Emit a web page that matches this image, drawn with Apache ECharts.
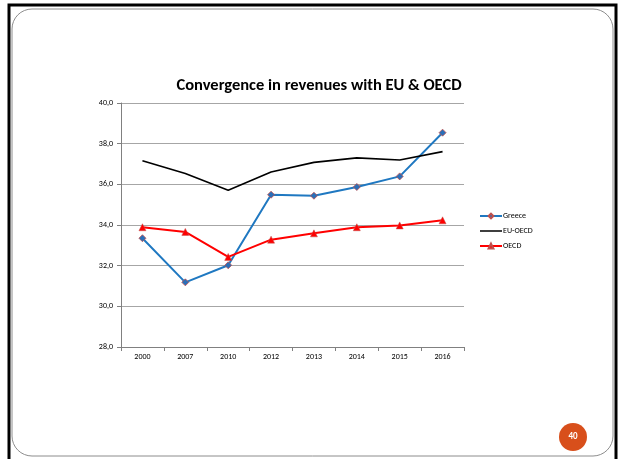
<!DOCTYPE html>
<html><head><meta charset="utf-8">
<script src="https://cdn.jsdelivr.net/npm/echarts@6/dist/echarts.min.js"></script>
<style>html,body{margin:0;padding:0;background:#fff}#c{width:620px;height:459px}</style>
</head><body><div id="c"></div>
<script>
const years = ['2000','2007','2010','2012','2013','2014','2015','2016'];
const greece = [33.35, 31.18, 32.02, 35.49, 35.44, 35.87, 36.39, 38.54];
const euOecd = [37.16, 36.53, 35.71, 36.61, 37.08, 37.30, 37.20, 37.61];
const oecd = [33.89, 33.66, 32.43, 33.28, 33.59, 33.89, 33.98, 34.23];
const chartTitle = 'Convergence in revenues with EU & OECD';
const pageNo = '40';

const chart = echarts.init(document.getElementById('c'));
const font = 'Carlito, "Liberation Sans", "Open Sans", sans-serif';
const barIcon = 'path://M0,2.2 L22,2.2 L22,3.8 L0,3.8 Z M0,0 L0.01,0 L0,0 Z M0,6 L0.01,6 L0,6 Z';
chart.setOption({
  animation: false,
  textStyle: {fontFamily: font},
  title: {text: chartTitle, left: 314, top: 72, textAlign: 'center',
    textStyle: {fontSize: 16.5, fontWeight: 'bold', color: '#000', fontFamily: font}},
  grid: {left: 121, right: 156, top: 103, bottom: 112},
  legend: {orient: 'vertical', left: 474, top: 207, itemGap: 7, itemWidth: 22, itemHeight: 6,
    textStyle: {fontSize: 8, color: '#000', padding: [0,0,0,-4]},
    data: ['Greece', {name: 'EU-OECD', icon: barIcon}, 'OECD']},
  xAxis: {type: 'category', data: years, boundaryGap: true,
    axisLine: {lineStyle: {color: '#808080', width: 1}},
    axisTick: {show: true, length: 4, lineStyle: {color: '#808080'}},
    axisLabel: {fontSize: 8, color: '#000', margin: 6}},
  yAxis: {type: 'value', min: 28, max: 40, interval: 2,
    axisLine: {show: true, lineStyle: {color: '#808080', width: 1}},
    axisTick: {show: true, length: 4, lineStyle: {color: '#808080'}},
    axisLabel: {fontSize: 8, color: '#000', margin: 8, formatter: v => v.toFixed(1).replace('.', ',')},
    splitLine: {lineStyle: {color: '#a6a6a6', width: 1}}},
  series: [
    {name: 'Greece', type: 'line', data: greece, symbol: 'diamond', symbolSize: 7,
      lineStyle: {color: '#1f78c1', width: 2}, itemStyle: {color: '#2a6fb8', borderColor: '#c0504d', borderWidth: 0.8}},
    {name: 'EU-OECD', type: 'line', data: euOecd, symbol: 'none',
      lineStyle: {color: '#000', width: 1.6}, itemStyle: {color: '#000'}},
    {name: 'OECD', type: 'line', data: oecd, symbol: 'triangle', symbolSize: 7,
      lineStyle: {color: '#ff0000', width: 2}, itemStyle: {color: '#ff0000', borderColor: '#c0504d', borderWidth: 0.5}}
  ],
  graphic: [
    {type: 'rect', shape: {x: 9, y: 5, width: 607, height: 470}, style: {fill: 'none', stroke: '#000', lineWidth: 3}, silent: true},
    {type: 'rect', shape: {x: 12, y: 9, width: 601, height: 447, r: 20}, style: {fill: 'none', stroke: '#8c8c8c', lineWidth: 1}, silent: true},
    {type: 'circle', shape: {cx: 573, cy: 437, r: 14}, style: {fill: '#d84f1b'}, silent: true},
    {type: 'text', x: 573, y: 437, style: {text: pageNo, fill: '#fff', fontSize: 9, fontWeight: 'bold', fontFamily: font, align: 'center', verticalAlign: 'middle'}, silent: true}
  ]
});
</script></body></html>
